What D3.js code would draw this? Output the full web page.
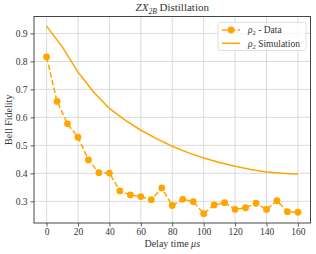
<!DOCTYPE html>
<html>
<head>
<meta charset="utf-8">
<script src="https://cdn.jsdelivr.net/npm/d3@7"></script>
<style>
  body { margin: 0; background: #fff; }
  svg { font-family: "Liberation Serif", "DejaVu Serif", serif; }
</style>
</head>
<body>
<div id="chart"></div>
<script>
// measured delay times (us) and Bell fidelity
const delays = [0, 6.67, 13.33, 20, 26.67, 33.33, 40, 46.67, 53.33, 60, 66.67, 73.33, 80,
  86.67, 93.33, 100, 106.67, 113.33, 120, 126.67, 133.33, 140, 146.67, 153.33, 160];
const fidelity = [0.816, 0.657, 0.577, 0.529, 0.448, 0.402, 0.401, 0.337, 0.323, 0.317, 0.306,
  0.348, 0.285, 0.307, 0.299, 0.256, 0.287, 0.295, 0.271, 0.277, 0.293, 0.271, 0.302, 0.263, 0.261];

// simulation curve
const simDelays = [0, 10, 20, 30, 40, 50, 60, 70, 80, 90, 100, 110, 120, 130, 140, 150, 160];
const simFidelity = [0.926, 0.852, 0.762, 0.690, 0.632, 0.590, 0.554, 0.524, 0.497, 0.474,
  0.455, 0.439, 0.425, 0.414, 0.405, 0.400, 0.397];

const xTicks = [0, 20, 40, 60, 80, 100, 120, 140, 160];
const yTicks = [0.3, 0.4, 0.5, 0.6, 0.7, 0.8, 0.9];

const width = 316, height = 254;
const margin = { top: 16.5, right: 5.5, bottom: 31, left: 34 };
const color = "#ffa500";
const ink = "#333";

const svg = d3.select("#chart").append("svg")
  .attr("width", width)
  .attr("height", height);

const x = d3.scaleLinear()
  .domain([-8, 168])
  .range([margin.left, width - margin.right]);

const y = d3.scaleLinear()
  .domain([0.2225, 0.9605])
  .range([height - margin.bottom, margin.top]);

// grid
svg.append("g")
  .attr("stroke", "#d6d6d6")
  .attr("stroke-width", 0.9)
  .selectAll()
  .data(xTicks)
  .join("line")
    .attr("x1", d => x(d)).attr("x2", d => x(d))
    .attr("y1", margin.top).attr("y2", height - margin.bottom);

svg.append("g")
  .attr("stroke", "#d6d6d6")
  .attr("stroke-width", 0.9)
  .selectAll()
  .data(yTicks)
  .join("line")
    .attr("y1", d => y(d)).attr("y2", d => y(d))
    .attr("x1", margin.left).attr("x2", width - margin.right);

// axes
const xAxis = svg.append("g")
  .attr("transform", `translate(0, ${height - margin.bottom})`)
  .call(d3.axisBottom(x).tickValues(xTicks).tickSize(3.5).tickPadding(2).tickSizeOuter(0));

const yAxis = svg.append("g")
  .attr("transform", `translate(${margin.left}, 0)`)
  .call(d3.axisLeft(y).tickValues(yTicks).tickFormat(d3.format(".1f")).tickSize(3.5).tickPadding(3).tickSizeOuter(0));

[xAxis, yAxis].forEach(a => {
  a.selectAll("text").attr("font-size", 9.5).attr("fill", ink)
    .attr("font-family", "Liberation Serif, serif");
  a.selectAll(".tick line").attr("stroke", ink).attr("stroke-width", 0.8);
  a.select(".domain").remove();
});

// frame
svg.append("rect")
  .attr("x", margin.left).attr("y", margin.top)
  .attr("width", width - margin.left - margin.right)
  .attr("height", height - margin.top - margin.bottom)
  .attr("fill", "none")
  .attr("stroke", ink)
  .attr("stroke-width", 0.9);

// simulation line
svg.append("path")
  .datum(simDelays.map((d, i) => [d, simFidelity[i]]))
  .attr("fill", "none")
  .attr("stroke", color)
  .attr("stroke-width", 1.5)
  .attr("d", d3.line().x(d => x(d[0])).y(d => y(d[1])));

// data line
const pts = delays.map((d, i) => [d, fidelity[i]]);
svg.append("path")
  .datum(pts)
  .attr("fill", "none")
  .attr("stroke", color)
  .attr("stroke-width", 1.5)
  .attr("stroke-dasharray", "5.5,2.4")
  .attr("d", d3.line().x(d => x(d[0])).y(d => y(d[1])));

svg.append("g")
  .attr("fill", color)
  .selectAll()
  .data(pts)
  .join("circle")
    .attr("cx", d => x(d[0]))
    .attr("cy", d => y(d[1]))
    .attr("r", 3.4);

// title
const title = svg.append("text")
  .attr("x", (margin.left + width - margin.right) / 2)
  .attr("y", 11)
  .attr("text-anchor", "middle")
  .attr("font-size", 11)
  .attr("fill", ink);
title.append("tspan").attr("font-style", "italic").text("ZX");
title.append("tspan").attr("font-style", "italic").attr("font-size", 7.5).attr("dy", 2.5).text("2B");
title.append("tspan").attr("dy", -2.5).text(" Distillation");

// axis labels
const xl = svg.append("text")
  .attr("x", (margin.left + width - margin.right) / 2)
  .attr("y", 246.5)
  .attr("text-anchor", "middle")
  .attr("font-size", 10)
  .attr("fill", ink);
xl.append("tspan").text("Delay time ");
xl.append("tspan").attr("font-style", "italic").text("μs");

svg.append("text")
  .attr("transform", `translate(12, ${(margin.top + height - margin.bottom) / 2}) rotate(-90)`)
  .attr("text-anchor", "middle")
  .attr("font-size", 10)
  .attr("fill", ink)
  .text("Bell Fidelity");

// legend
const lg = svg.append("g").attr("transform", "translate(218, 22.5)");
lg.append("rect")
  .attr("width", 88).attr("height", 28).attr("rx", 2)
  .attr("fill", "rgba(255,255,255,0.8)")
  .attr("stroke", "#d8d8d8").attr("stroke-width", 0.8);

const entries = [
  { label: "Data", dashed: true },
  { label: "Simulation", dashed: false }
];
entries.forEach((e, i) => {
  const yy = 7.5 + i * 13.3;
  lg.append("line")
    .attr("x1", 4).attr("x2", 22).attr("y1", yy).attr("y2", yy)
    .attr("stroke", color).attr("stroke-width", 1.5)
    .attr("stroke-dasharray", e.dashed ? "5.5,2.4" : null);
  if (e.dashed) lg.append("circle").attr("cx", 13).attr("cy", yy).attr("r", 3.4).attr("fill", color);
  const t = lg.append("text")
    .attr("x", 30).attr("y", yy + 3.3)
    .attr("font-size", 9.5).attr("fill", ink);
  t.append("tspan").attr("font-style", "italic").text("ρ");
  t.append("tspan").attr("font-size", 6.5).attr("dy", 2).text("2");
  t.append("tspan").attr("dy", -2).text(e.dashed ? " - Data" : " Simulation");
});
</script>
</body>
</html>
